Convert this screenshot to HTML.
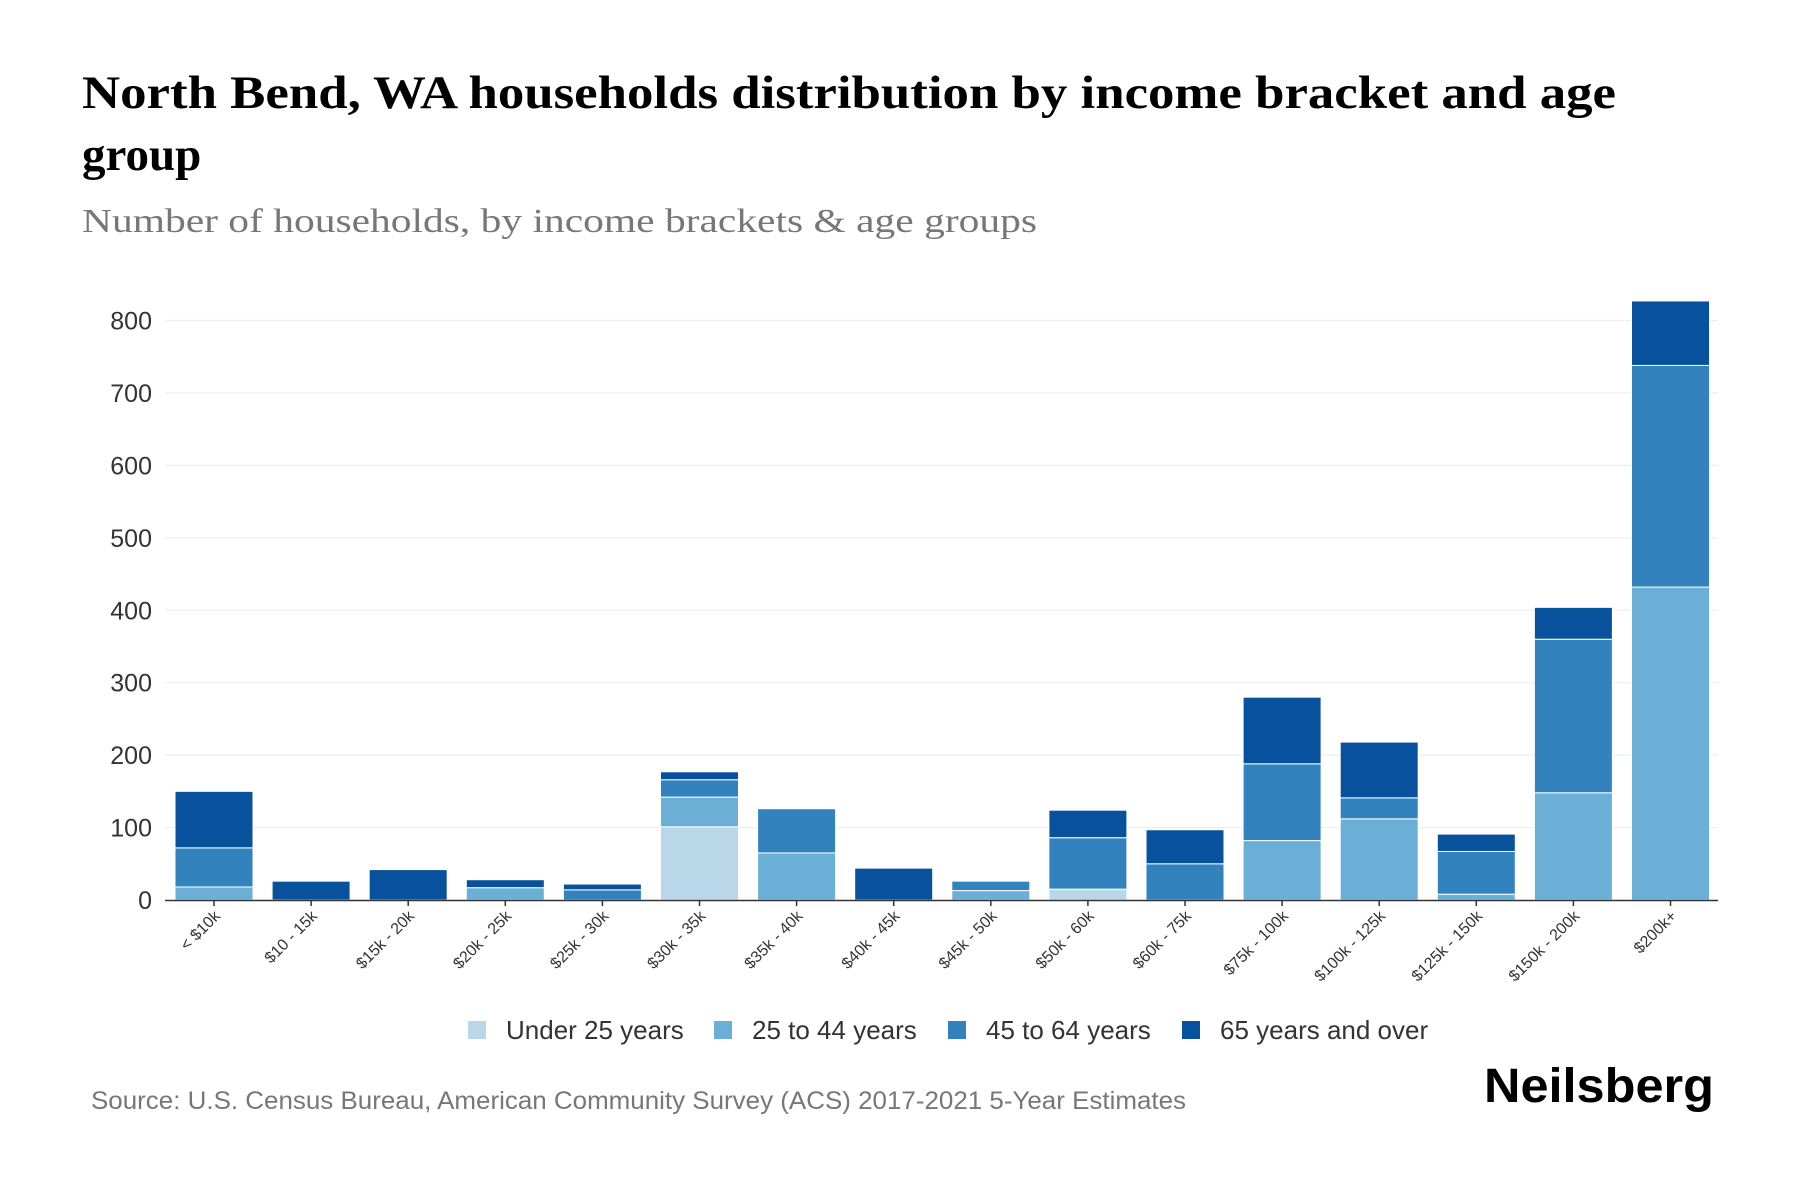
<!DOCTYPE html>
<html><head><meta charset="utf-8"><style>
html,body{margin:0;padding:0;background:#fff;}
svg{display:block;}
</style></head><body>
<svg width="1800" height="1200" xmlns="http://www.w3.org/2000/svg" font-family="'Liberation Sans', sans-serif">
<rect width="1800" height="1200" fill="#fff"/>
<text x="82" y="108" font-family="'Liberation Serif', serif" font-weight="bold" font-size="47" fill="#000" textLength="1534" lengthAdjust="spacingAndGlyphs">North Bend, WA households distribution by income bracket and age</text>
<text x="82" y="170" font-family="'Liberation Serif', serif" font-weight="bold" font-size="47" fill="#000">group</text>
<text x="82" y="232" font-family="'Liberation Serif', serif" font-size="34" fill="#777" textLength="955" lengthAdjust="spacingAndGlyphs">Number of households, by income brackets &amp; age groups</text>
<g id="grid" stroke="#eee" stroke-width="1.2"></g>
<g id="ylab" font-size="25" fill="#333" text-anchor="end"></g>
<g id="bars"></g>
<line x1="165" y1="900.5" x2="1718" y2="900.5" stroke="#333" stroke-width="1.5"/>
<g id="xlab" font-size="16" fill="#333" text-anchor="end"></g>
<g font-size="26" fill="#333">
<rect x="468" y="1021" width="18" height="18" fill="#b9d7e8"/><text x="506" y="1039">Under 25 years</text>
<rect x="714" y="1021" width="18" height="18" fill="#6baed6"/><text x="752" y="1039">25 to 44 years</text>
<rect x="948" y="1021" width="18" height="18" fill="#3182bd"/><text x="986" y="1039">45 to 64 years</text>
<rect x="1182" y="1021" width="18" height="18" fill="#08519c"/><text x="1220" y="1039">65 years and over</text>
</g>
<text x="91" y="1109" font-size="25" fill="#777" textLength="1095" lengthAdjust="spacingAndGlyphs">Source: U.S. Census Bureau, American Community Survey (ACS) 2017-2021 5-Year Estimates</text>
<text x="1714" y="1102" font-size="48" font-weight="bold" fill="#000" text-anchor="end" textLength="230" lengthAdjust="spacingAndGlyphs">Neilsberg</text>
<script>
var ns="http://www.w3.org/2000/svg";
function el(t,a,p,txt){var e=document.createElementNS(ns,t);for(var k in a)e.setAttribute(k,a[k]);if(txt!=null)e.textContent=txt;document.getElementById(p).appendChild(e);return e;}
var y0=900,k=(900-320.5)/800;
for(var v=0;v<=800;v+=100){var y=y0-v*k;if(v>0)el('line',{x1:165,x2:1718,y1:y,y2:y},'grid');el('text',{x:152,y:y+9},'ylab',String(v));}
var cols=["#b9d7e8","#6baed6","#3182bd","#08519c"];
var data=[
["< $10k",[0,18,54,78]],["$10 - 15k",[0,0,0,26]],["$15k - 20k",[0,0,0,42]],["$20k - 25k",[0,17,0,11]],
["$25k - 30k",[0,0,14,8]],["$30k - 35k",[101,41,24,11]],["$35k - 40k",[0,65,61,0]],["$40k - 45k",[0,0,0,44]],
["$45k - 50k",[0,13,13,0]],["$50k - 60k",[15,0,71,38]],["$60k - 75k",[0,0,50,47]],["$75k - 100k",[0,82,106,92]],
["$100k - 125k",[0,112,29,77]],["$125k - 150k",[0,8,59,24]],["$150k - 200k",[0,148,212,44]],["$200k+",[0,432,306,89]]];
data.forEach(function(d,i){var x=175+i*97.1,cum=0;
d[1].forEach(function(v,j){if(v<=0)return;var yt=y0-(cum+v)*k,yb=y0-cum*k;
el('rect',{x:x,y:yt,width:78,height:yb-yt,fill:cols[j],stroke:'#fff','stroke-width':1},'bars');cum+=v;});
var cx=x+39;el('line',{x1:cx,x2:cx,y1:900,y2:906,stroke:'#333','stroke-width':1.5},'xlab');
el('text',{x:cx+7,y:917,transform:'rotate(-45 '+(cx+7)+' 917)'},'xlab',d[0]);});
</script>
</svg>
</body></html>
